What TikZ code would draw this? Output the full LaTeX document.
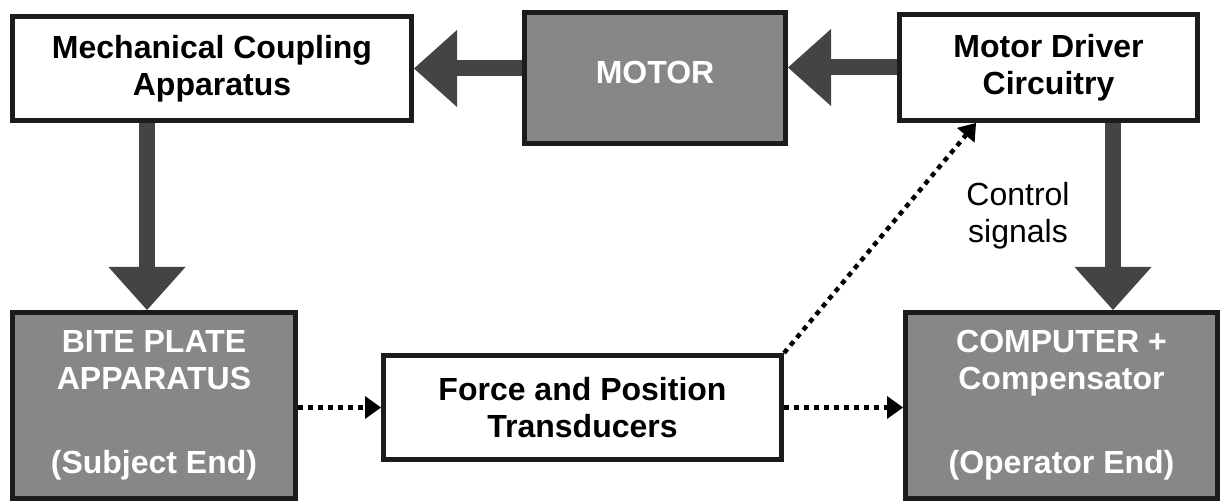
\documentclass[tikz,border=0pt]{standalone}
\usepackage{fontspec}
\setmainfont{Liberation Sans}
\usetikzlibrary{arrows.meta,calc}
\definecolor{boxgray}{HTML}{878787}
\definecolor{edge}{HTML}{1C1C1C}
\definecolor{shaft}{HTML}{444444}
\tikzset{
  every node/.style={font=\fontsize{32}{37}\selectfont},
  whitebox/.style={draw=edge, line width=5pt, fill=white, align=center,
    font=\bfseries\fontsize{32}{37}\selectfont, inner sep=0pt},
  graybox/.style={whitebox, fill=boxgray, text=white},
  blockarrow/.style={draw=shaft, line width=16pt,
    -{Triangle[length=43pt,width=77pt,line width=0pt]}},
  dotarrow/.style={draw=black, line width=4.5pt, dash pattern=on 5pt off 5pt,
    -{Triangle[length=16pt,width=23pt,line width=0pt]}},
}
\begin{document}
\begin{tikzpicture}[x=1pt,y=-1pt]
\useasboundingbox (0,0) rectangle (1225,502);
\fill[white] (0,0) rectangle (1225,502);

% blocks
\node[whitebox, minimum width=399pt, minimum height=104pt] (mech) at (212,68.5)
  {Mechanical Coupling\\Apparatus};
\node[graybox, minimum width=261pt, minimum height=131pt, text depth=12pt] (motor) at (655,78)
  {MOTOR};
\node[whitebox, minimum width=298pt, minimum height=106pt] (driver) at (1048.5,67.5)
  {Motor Driver\\Circuitry};
\node[graybox, minimum width=283pt, minimum height=186pt] (bite) at (154,405.5)
  {BITE PLATE\\APPARATUS\\[47pt](Subject End)};
\node[whitebox, minimum width=398pt, minimum height=104pt] (force) at (582.5,407.5)
  {Force and Position\\Transducers};
\node[graybox, minimum width=312pt, minimum height=186pt] (computer) at (1061.5,405.5)
  {COMPUTER +\\Compensator\\[47pt](Operator End)};
\node[align=center] (ctrl) at (1018,216) {Control\\signals};

% vertical arrow columns
\coordinate (lx) at (147,0);
\coordinate (rx) at (1113,0);

% power path
\draw[blockarrow] (motor.west |- mech.east) -- (mech.east);
\draw[blockarrow] (driver.west) -- (driver.west -| motor.east);
\draw[blockarrow] (mech.south -| lx) -- (bite.north -| lx);
\draw[blockarrow] (driver.south -| rx) -- (computer.north -| rx);

% measurement path
\draw[dotarrow] (bite.east |- force.west) -- (force.west);
\draw[dotarrow] (force.east) -- (force.east -| computer.west);
\draw[dotarrow] (force.north east) -- ($(driver.south west)+(79,0)$);
\end{tikzpicture}
\end{document}
